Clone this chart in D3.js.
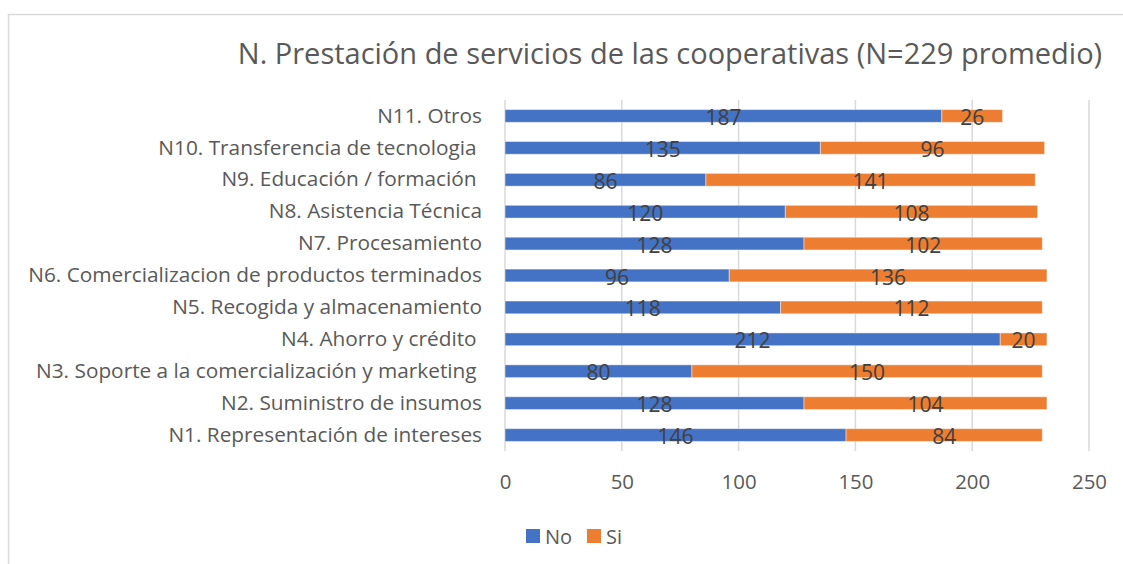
<!DOCTYPE html>
<html>
<head>
<meta charset="utf-8">
<script src="https://cdn.jsdelivr.net/npm/d3@7"></script>
<style>
  html, body { margin: 0; padding: 0; background: #fff; }
  svg { display: block; font-family: "Open Sans", "Noto Sans", sans-serif; }
</style>
</head>
<body>
<svg id="chart" width="1123" height="564"></svg>
<script>
// Services provided by the cooperatives: counts of "No" / "Si" answers per service
const categories = [
  "N11. Otros",
  "N10. Transferencia de tecnologia ",
  "N9. Educación / formación ",
  "N8. Asistencia Técnica",
  "N7. Procesamiento",
  "N6. Comercializacion de productos terminados",
  "N5. Recogida y almacenamiento",
  "N4. Ahorro y crédito ",
  "N3. Soporte a la comercialización y marketing ",
  "N2. Suministro de insumos",
  "N1. Representación de intereses"
];
const noValues = [187, 135, 86, 120, 128, 96, 118, 212, 80, 128, 146];
const siValues = [26, 96, 141, 108, 102, 136, 112, 20, 150, 104, 84];
const seriesNames = ["No", "Si"];
const seriesColors = ["#4472C4", "#ED7D31"];
const xTicks = [0, 50, 100, 150, 200, 250];
const title = "N. Prestación de servicios de las cooperativas (N=229 promedio)";

const svg = d3.select("#chart");

// Chart frame
svg.append("rect")
  .attr("x", 8.5).attr("y", 14.5)
  .attr("width", 1130).attr("height", 570)
  .attr("fill", "#fff")
  .attr("stroke", "#d9d9d9")
  .attr("stroke-width", 1.5);

const plot = { left: 505, right: 1089, top: 100, bottom: 451 };

const x = d3.scaleLinear().domain([0, 250]).range([plot.left, plot.right]);
const y = d3.scaleBand().domain(categories).range([plot.top, plot.bottom]).paddingInner(0.6).paddingOuter(0.3);

// Gridlines
svg.append("g")
  .selectAll("line")
  .data(xTicks)
  .join("line")
  .attr("x1", d => x(d)).attr("x2", d => x(d))
  .attr("y1", plot.top).attr("y2", plot.bottom)
  .attr("stroke", "#d9d9d9")
  .attr("stroke-width", 1.5);

// Stack the two series
const rows = categories.map((c, i) => ({ cat: c, No: noValues[i], Si: siValues[i] }));
const stacked = d3.stack().keys(seriesNames)(rows);

const layers = svg.append("g")
  .selectAll("g")
  .data(stacked)
  .join("g")
  .attr("fill", (d, i) => seriesColors[i]);

layers.selectAll("rect")
  .data(d => d)
  .join("rect")
  .attr("x", d => x(d[0]))
  .attr("y", d => y(d.data.cat))
  .attr("width", d => x(d[1]) - x(d[0]))
  .attr("height", y.bandwidth())
  .attr("stroke", "#ffffff")
  .attr("stroke-opacity", 0.45)
  .attr("stroke-width", 1);

// Value labels centered on each segment
layers.selectAll("text")
  .data(d => d.map(v => ({ v, key: d.key })))
  .join("text")
  .attr("x", d => (x(d.v[0]) + x(d.v[1])) / 2)
  .attr("y", d => y(d.v.data.cat) + y.bandwidth() / 2 + 1)
  .attr("text-anchor", "middle")
  .attr("dominant-baseline", "central")
  .attr("fill", "#404040")
  .attr("font-size", 21)
  .text(d => d.v.data[d.key]);

// Category axis (labels only)
const yAxis = d3.axisLeft(y).tickSize(0).tickPadding(23);
const yg = svg.append("g").attr("transform", `translate(${plot.left},0)`).call(yAxis);
yg.select(".domain").remove();
yg.selectAll("text")
  .attr("fill", "#595959")
  .attr("font-size", 20.8)
  .attr("font-family", "'Open Sans', sans-serif")
  .style("white-space", "pre");

// Value axis (tick labels only)
const xAxis = d3.axisBottom(x).tickValues(xTicks).tickSize(0).tickPadding(24);
const xg = svg.append("g").attr("transform", `translate(0,${plot.bottom})`).call(xAxis);
xg.select(".domain").remove();
xg.selectAll("text")
  .attr("fill", "#595959")
  .attr("font-size", 20.4)
  .attr("font-family", "'Open Sans', sans-serif");

// Title
svg.append("text")
  .attr("x", 670).attr("y", 63.5)
  .attr("text-anchor", "middle")
  .attr("fill", "#595959")
  .attr("font-size", 29)
  .text(title);

// Legend
const legend = svg.append("g").attr("transform", "translate(526,529)");
const items = [{ name: "No", dx: 0 }, { name: "Si", dx: 61 }];
items.forEach((it, i) => {
  legend.append("rect")
    .attr("x", it.dx).attr("y", 0)
    .attr("width", 14).attr("height", 14)
    .attr("fill", seriesColors[i]);
  legend.append("text")
    .attr("x", it.dx + 19).attr("y", 7.5)
    .attr("dominant-baseline", "central")
    .attr("fill", "#595959")
    .attr("font-size", 20)
    .text(it.name);
});
</script>
</body>
</html>
